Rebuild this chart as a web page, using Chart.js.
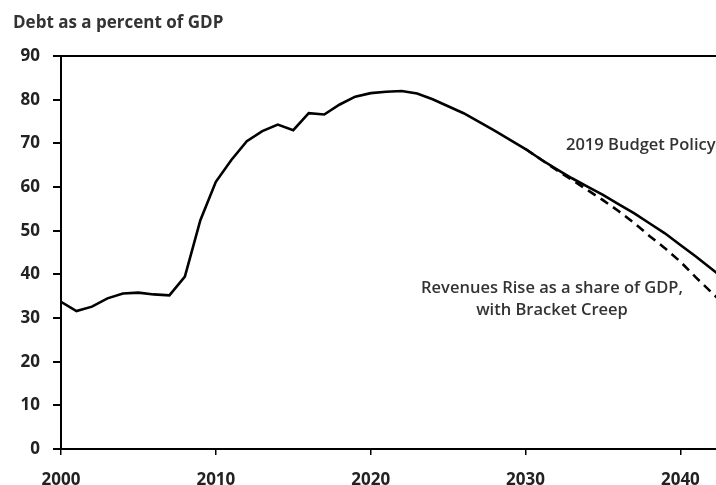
<!DOCTYPE html>
<html>
<head>
<meta charset="utf-8">
<script src="https://cdn.jsdelivr.net/npm/chart.js@4/dist/chart.umd.min.js"></script>
<style>
  body { margin: 0; background: #fff; }
  canvas { display: block; }
</style>
</head>
<body>
<canvas id="debt-chart" width="716" height="485"></canvas>
<script>
// Debt as a percent of GDP - two projections
var years = [2000,2001,2002,2003,2004,2005,2006,2007,2008,2009,2010,2011,2012,2013,2014,2015,2016,2017,2018,2019,2020,2021,2022,2023,2024,2025,2026,2027,2028,2029,2030,2031,2032,2033,2034,2035,2036,2037,2038,2039,2040,2041,2042,2043];
var budgetPolicy = [33.7,31.6,32.6,34.5,35.6,35.8,35.4,35.2,39.5,52.4,61.2,66.2,70.5,72.8,74.3,73.0,76.9,76.6,78.9,80.7,81.5,81.8,82.0,81.4,80.1,78.5,76.9,74.9,72.9,70.8,68.7,66.3,64.1,62.0,60.1,58.2,56.1,54.0,51.7,49.4,46.7,44.1,41.3,38.5];
var creepYears = [2030,2031,2032,2033,2034,2035,2036,2037,2038,2039,2040,2041,2042,2043];
var bracketCreep = [68.7,66.3,63.9,61.6,59.3,57.0,54.5,51.8,48.8,46.0,42.9,39.3,35.9,32.5];
var xTicks = [2000,2010,2020,2030,2040];
var yTicks = [0,10,20,30,40,50,60,70,80,90];

var titleText = 'Debt as a percent of GDP';
var policyLabel = '2019 Budget Policy';
var creepLabel = ['Revenues Rise as a share of GDP,', 'with Bracket Creep'];

function pts(xs, ys) {
  return xs.map(function (x, i) { return { x: x, y: ys[i] }; });
}

var titleFont = 'bold 17px "Open Sans"';
var textFont = '600 16.5px "Open Sans"';

var texts = {
  id: 'texts',
  afterDraw: function (chart) {
    var ctx = chart.ctx;
    ctx.save();
    ctx.fillStyle = '#333';
    ctx.textBaseline = 'middle';
    ctx.textAlign = 'left';
    ctx.font = titleFont;
    ctx.fillText(titleText, 13, 23);
    ctx.font = textFont;
    ctx.fillText(policyLabel, 566, 145);
    ctx.textAlign = 'center';
    ctx.fillText(creepLabel[0], 552, 288);
    ctx.fillText(creepLabel[1], 552, 310);
    ctx.restore();
  }
};

new Chart(document.getElementById('debt-chart'), {
  type: 'line',
  data: {
    datasets: [{
        data: pts(years, budgetPolicy),
        label: policyLabel,
        borderColor: '#000',
        borderWidth: 2.6,
        pointRadius: 0,
        fill: false,
        tension: 0
      }, {
        data: pts(creepYears, bracketCreep),
        label: creepLabel.join(' '),
        borderColor: '#000',
        borderWidth: 2.6,
        borderDash: [9, 6],
        pointRadius: 0,
        fill: false,
        tension: 0
      }
    ]
  },
  options: {
    responsive: false,
    animation: false,
    layout: { padding: { top: 56, left: 0, right: 0, bottom: 0 } },
    plugins: {
      legend: { display: false },
      tooltip: { enabled: false }
    },
    scales: {
      x: {
        type: 'linear',
        min: 2000,
        max: 2042.3,
        afterBuildTicks: function (s) { s.ticks = xTicks.map(function (v) { return { value: v }; }); },
        afterFit: function (s) { s.height = 36; },
        ticks: {
          color: '#222',
          font: { family: 'Open Sans', size: 17, weight: 'bold' },
          padding: 15,
          maxRotation: 0,
          callback: function (v) { return String(v); }
        },
        grid: { drawOnChartArea: false, color: '#000', tickLength: 6, lineWidth: 1.5 },
        border: { color: '#000', width: 2 }
      },
      y: {
        min: 0,
        max: 90,
        afterBuildTicks: function (s) { s.ticks = yTicks.map(function (v) { return { value: v }; }); },
        afterFit: function (s) { s.width = 61; },
        ticks: {
          color: '#222',
          font: { family: 'Open Sans', size: 17, weight: 'bold' },
          padding: 13
        },
        grid: {
          color: function (c) { return c.tick && c.tick.value === 90 ? '#000' : 'rgba(0,0,0,0)'; },
          tickColor: '#000',
          tickLength: 8,
          lineWidth: 2
        },
        border: { color: '#000', width: 2 }
      }
    }
  },
  plugins: [texts]
});
</script>
</body>
</html>
